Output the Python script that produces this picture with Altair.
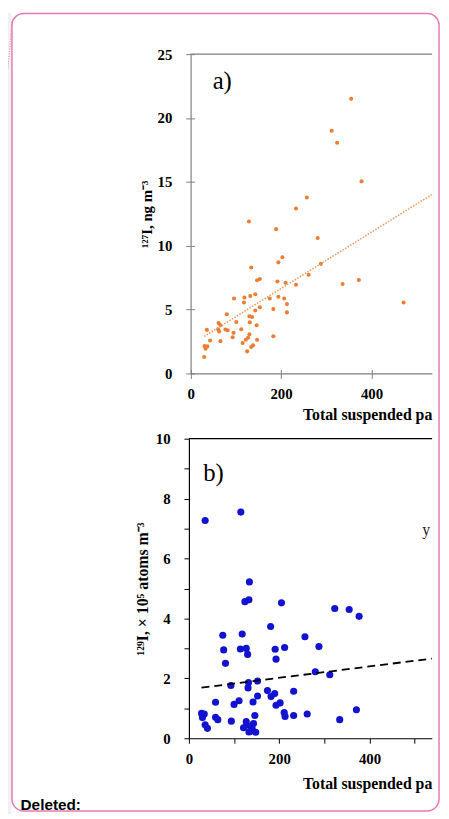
import altair as alt
import pandas as pd

# ---------------- data ----------------
# panel a: 127I vs total suspended particles
tsp_a = [355, 312, 324, 378, 257, 233, 129, 189, 281, 203, 194, 288, 134, 261,
         153, 147, 192, 210, 233, 336, 372, 143, 132, 119, 96, 175, 194, 207,
         118, 213, 153, 143, 183, 213, 80, 130, 136, 101, 131, 62, 66, 146,
         36, 61, 77, 82, 112, 63, 95, 130, 93, 183, 127, 43, 66, 122, 147,
         115, 31, 37, 33, 138, 134, 125, 30, 471]
i127 = [21.5, 19.0, 18.06, 15.04, 13.77, 12.92, 11.9, 11.3, 10.6, 9.1, 8.7, 8.58, 8.3, 7.73,
        7.4, 7.3, 7.2, 7.1, 6.95, 7.0, 7.32, 6.2, 6.07, 5.95, 5.87, 5.87, 6.0, 5.87,
        5.56, 5.43, 5.19, 4.93, 5.04, 4.78, 4.63, 4.47, 4.42, 4.03, 4.0, 3.95, 3.77, 3.77,
        3.41, 3.46, 3.44, 3.39, 3.46, 3.28, 3.18, 3.07, 2.84, 2.92, 2.79, 2.58, 2.53, 2.64, 2.64,
        2.38, 2.14, 2.12, 1.94, 2.2, 2.07, 1.73, 1.29, 5.56]
trend_a_x = [30, 533]
trend_a_y = [2.9, 14.0]

# panel b: 129I vs total suspended particles
tsp_b = [36, 115, 134, 124, 133, 205, 323, 355, 377, 181, 75, 118, 257, 77, 114,
         127, 130, 191, 212, 288, 193, 81, 280, 312, 93, 132, 152, 131, 174, 190,
         182, 232, 152, 111, 100, 142, 202, 193, 59, 28, 34, 30, 59, 64, 94, 146,
         211, 213, 232, 262, 334, 371, 36, 41, 127, 121, 128, 143, 140, 136, 148, 133]
i129 = [7.27, 7.55, 5.22, 4.56, 4.62, 4.52, 4.33, 4.3, 4.07, 3.73, 3.44, 3.48, 3.39, 2.95, 2.98,
        3.0, 2.8, 2.97, 3.03, 3.06, 2.64, 2.5, 2.22, 2.12, 1.76, 1.86, 1.91, 1.68, 1.59, 1.49,
        1.39, 1.57, 1.41, 1.25, 1.13, 1.21, 1.18, 1.1, 1.2, 0.83, 0.81, 0.69, 0.7, 0.62, 0.57, 0.76,
        0.86, 0.73, 0.76, 0.81, 0.62, 0.95, 0.45, 0.33, 0.56, 0.35, 0.44, 0.49, 0.33, 0.23, 0.2, 0.21]
trend_b_x = [28, 538]
trend_b_y = [1.69, 2.66]

ticks_a_y = [0, 5, 10, 15, 20, 25]
ticks_a_x = [0, 200, 400]
ticks_b_y = list(range(0, 11))
ticks_b_x = [0, 100, 200, 300, 400, 500]

x_title = "Total suspended pa"
ya_title = "¹²⁷I, ng m⁻³"
yb_title = "¹²⁹I, × 10⁵ atoms m⁻³"

# ---------------- layout ----------------
W, H = 438, 811
SERIF = "Liberation Serif"
GREY = "#7f7f7f"
PINK = "#e67ab5"

df_a = pd.DataFrame({"tsp": tsp_a, "val": i127})
df_ta = pd.DataFrame({"tsp": trend_a_x, "val": trend_a_y})
df_b = pd.DataFrame({"tsp": tsp_b, "val": i129})
df_tb = pd.DataFrame({"tsp": trend_b_x, "val": trend_b_y})
one = pd.DataFrame({"k": [0]})

xa_scale = alt.Scale(domain=[0, 533.3], range=[184.7, 428.7], nice=False, zero=False)
ya_scale = alt.Scale(domain=[0, 25], range=[365, 42], nice=False, zero=False)
xb_scale = alt.Scale(domain=[0, 538], range=[183, 428.7], nice=False, zero=False)
yb_scale = alt.Scale(domain=[0, 10], range=[734, 431], nice=False, zero=False)

lab = dict(labelFont=SERIF, labelFontSize=15, labelFontWeight="bold", labelColor="black",
           labelFlush=False, labelOverlap=False, grid=False)

pts_a = alt.Chart(df_a).mark_circle(size=17, color="#ed7d31", opacity=1).encode(
    x=alt.X("tsp:Q", scale=xa_scale, axis=alt.Axis(
        orient="bottom", offset=-(H - 365), values=ticks_a_x, tickSize=5, labelPadding=8,
        domainColor=GREY, tickColor=GREY, domainWidth=1.2,
        title=x_title, titleAnchor="end", titleFont=SERIF, titleFontSize=16,
        titleFontWeight="bold", titleColor="black", titlePadding=6, **lab)),
    y=alt.Y("val:Q", scale=ya_scale, axis=alt.Axis(
        orient="left", offset=-184.7, values=ticks_a_y, tickSize=5, labelPadding=14,
        domainColor=GREY, tickColor=GREY, domainWidth=1.2,
        title=ya_title, titleFont=SERIF, titleFontSize=15, titleFontWeight="bold",
        titleColor="black", titlePadding=3, **lab)),
)

trend_a = alt.Chart(df_ta).mark_line(color="#ee9a5e", strokeDash=[1.5, 1.5], strokeWidth=1.6).encode(
    x=alt.X("tsp:Q", scale=xa_scale, axis=alt.Axis(
        orient="top", offset=-365, values=ticks_a_x, tickSize=4, labels=False, domain=False,
        tickColor=GREY, title=None, grid=False)),
    y=alt.Y("val:Q", scale=ya_scale, axis=alt.Axis(
        orient="right", offset=184.7 - W, values=ticks_a_y, tickSize=4, labels=False, domain=False,
        tickColor=GREY, title=None, grid=False)),
)

pts_b = alt.Chart(df_b).mark_circle(size=52, color="#1212cf", opacity=1).encode(
    x=alt.X("tsp:Q", scale=xb_scale, axis=alt.Axis(
        orient="bottom", offset=-(H - 734), values=ticks_b_x, tickSize=5, labelPadding=9,
        labelExpr="datum.value % 200 == 0 ? datum.label : ''",
        domainColor="black", tickColor="black", domainWidth=1.2,
        title=x_title, titleAnchor="end", titleFont=SERIF, titleFontSize=16,
        titleFontWeight="bold", titleColor="black", titlePadding=8.7, **lab)),
    y=alt.Y("val:Q", scale=yb_scale, axis=alt.Axis(
        orient="left", offset=-183, values=ticks_b_y, tickSize=5, labelPadding=14,
        labelExpr="datum.value % 2 == 0 ? datum.label : ''",
        domainColor="black", tickColor="black", domainWidth=1.2,
        title=yb_title, titleFont=SERIF, titleFontSize=16, titleFontWeight="bold",
        titleColor="black", titlePadding=5, **lab)),
)

trend_b = alt.Chart(df_tb).mark_line(color="black", strokeDash=[8, 5], strokeWidth=1.8).encode(
    x=alt.X("tsp:Q", scale=xb_scale, axis=None),
    y=alt.Y("val:Q", scale=yb_scale, axis=None),
)

# ---------------- decorations ----------------
grey_strip = alt.Chart(one).mark_rect(color="#f1f1f1").encode(
    x=alt.value(0), x2=alt.value(3.5), y=alt.value(0), y2=alt.value(H))
frame_a = alt.Chart(one).mark_rule(color=GREY, strokeWidth=1.2).encode(
    x=alt.value(184.7), x2=alt.value(429), y=alt.value(42))
frame_b = alt.Chart(one).mark_rule(color="black", strokeWidth=1.2).encode(
    x=alt.value(183), x2=alt.value(429), y=alt.value(431))
label_a = alt.Chart(one).mark_text(text="a)", font=SERIF, fontSize=25, align="left",
                                   baseline="alphabetic", color="black").encode(
    x=alt.value(207), y=alt.value(77))
label_b = alt.Chart(one).mark_text(text="b)", font=SERIF, fontSize=25, align="left",
                                   baseline="alphabetic", color="black").encode(
    x=alt.value(197.5), y=alt.value(473.5))
label_y = alt.Chart(one).mark_text(text="y", font=SERIF, fontSize=16, align="left",
                                   baseline="alphabetic", color="#222222").encode(
    x=alt.value(419), y=alt.value(528))
deleted = alt.Chart(one).mark_text(text="Deleted:", font="Liberation Sans", fontSize=15.5,
                                   fontWeight="bold", align="left", baseline="alphabetic",
                                   color="black").encode(
    x=alt.value(12.7), y=alt.value(806.5))
border = alt.Chart(one).mark_rect(cornerRadius=12, fillOpacity=0, stroke=PINK, strokeWidth=1.5).encode(
    x=alt.value(4), x2=alt.value(436), y=alt.value(0.8), y2=alt.value(807.5))
connector = alt.Chart(one).mark_rule(color=PINK, strokeDash=[1, 1.5], strokeWidth=1).encode(
    x=alt.value(4), y=alt.value(9), x2=alt.value(0), y2=alt.value(57))

chart = alt.layer(
    grey_strip, frame_a, frame_b, pts_a, trend_a, pts_b, trend_b,
    label_a, label_b, label_y, deleted, border, connector,
).resolve_scale(x="independent", y="independent").resolve_axis(
    x="independent", y="independent"
).properties(
    width=W, height=H, padding=0, autosize=alt.AutoSizeParams(type="none"),
    background="white",
).configure_view(strokeOpacity=0)

chart.save("out.html", embed_options={"renderer": "svg", "actions": False})
